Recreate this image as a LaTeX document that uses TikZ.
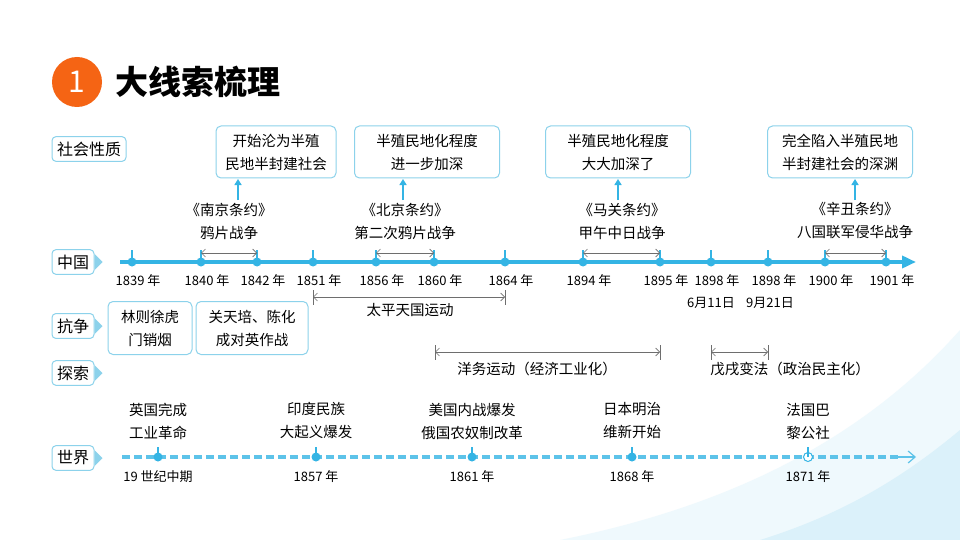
\documentclass[tikz,border=0pt]{standalone}
\usepackage{fontspec}
\newfontfamily\cjk{Noto Sans CJK SC}
\usetikzlibrary{arrows.meta,shapes.symbols}
\definecolor{lineblue}{RGB}{52,180,228}
\definecolor{boxblue}{RGB}{140,210,235}
\definecolor{capgray}{RGB}{110,110,110}
\definecolor{titleorange}{RGB}{245,100,20}
\tikzset{every picture/.style={line width=0.55pt}}
\tikzset{
  sidebox/.style={draw=boxblue,line width=1pt,rounded corners=4pt,fill=white,inner sep=5pt,font=\cjk\fontsize{16}{18}\selectfont},
  notebox/.style={draw=boxblue,line width=1pt,rounded corners=5pt,fill=white,align=center,inner sep=3pt,font=\cjk\fontsize{14.5}{23}\selectfont},
  evt/.style={align=center,font=\cjk\fontsize{14.5}{23}\selectfont},
  yr/.style={font=\cjk\fontsize{13}{15}\selectfont},
  span/.style={capgray,line width=0.6pt,{Straight Barb[length=4pt]}-{Straight Barb[length=4pt]}},
  upar/.style={lineblue,line width=2pt,-{Triangle[length=6pt,width=7pt]}},
}
\begin{document}
\begin{tikzpicture}[x=1pt,y=1pt,yscale=-1]
\useasboundingbox (0,0) rectangle (960,540);
% background
\fill[white] (0,0) rectangle (960,540);
\fill[lineblue!8] (960,330) .. controls (880,420) and (760,500) .. (560,540) -- (960,540) -- cycle;
\fill[lineblue!18] (960,430) .. controls (900,480) and (840,515) .. (760,540) -- (960,540) -- cycle;
% title
\fill[titleorange] (77,82) circle (25);
\node[white,font=\cjk\fontsize{30}{30}\selectfont] (num) at (77,82) {1};
\node[anchor=west,font=\cjk\bfseries\fontsize{33}{33}\selectfont] (title) at (112,82) {大线索梳理};
% side labels
\node[sidebox] (shehui) at (89,149) {社会性质};
\node[sidebox] (zhongguo) at (73,262) {中国};
\node[sidebox] (kangzheng) at (73,326) {抗争};
\node[sidebox] (tansuo) at (73,373) {探索};
\node[sidebox] (shijie) at (73,458) {世界};
\foreach \n in {zhongguo,kangzheng,tansuo,shijie}
  \fill[boxblue] ([yshift=-8]\n.east) -- ++(8,8) -- ++(-8,8) -- cycle;
% china timeline
\coordinate (cstart) at (120,262);
\coordinate (cend) at (916,262);
\draw[lineblue,line width=3.5pt,-{Triangle[length=14pt,width=12pt]}] (cstart) -- (cend);
\foreach \x/\t [count=\i] in {132/1839,201/1840,257/1842,313/1851,376/1856,434/1860,505/1864,583/1894,660/1895,711/1898,768/1898,825/1900,886/1901}{
  \coordinate (c\i) at (\x,262);
  \fill[lineblue] (c\i) circle (4.5);
  \draw[lineblue,line width=1.5pt] (c\i) -- ++(0,-12);
  \node[yr] (cy\i) at (\x+6,281) {\t\ 年};
}
\node[yr] (d10) at (711,303) {6月11日};
\node[yr] (d11) at (770,303) {9月21日};
% wars
\foreach \a/\b in {2/3,5/6,8/9,12/13}
  \draw[span] ([yshift=-9]c\a) -- ([yshift=-9]c\b);
\node[evt] (nanjing) at (229,221) {《南京条约》\\鸦片战争};
\node[evt] (beijing) at (405,221) {《北京条约》\\第二次鸦片战争};
\node[evt] (maguan) at (622,221) {《马关条约》\\甲午中日战争};
\node[evt] (xinchou) at (855,221) {《辛丑条约》\\八国联军侵华战争};
% nature boxes
\node[notebox,minimum width=120,minimum height=52] (n1) at (276,152) {开始沦为半殖\\民地半封建社会};
\node[notebox,minimum width=145,minimum height=52] (n2) at (427,152) {半殖民地化程度\\进一步加深};
\node[notebox,minimum width=145,minimum height=52] (n3) at (618,152) {半殖民地化程度\\大大加深了};
\node[notebox,minimum width=145,minimum height=52] (n4) at (840,152) {完全陷入半殖民地\\半封建社会的深渊};
\draw[upar] (238,200) -- (238,179);
\draw[upar] (403,200) -- (403,179);
\draw[upar] (618,200) -- (618,179);
\draw[upar] (855,200) -- (855,179);
% struggle
\draw[span] (313,297) -- (505,297);
\draw[capgray] (313,290) -- (313,305) (505,290) -- (505,305);
\node[evt] (taiping) at (410,310) {太平天国运动};
\node[notebox,minimum width=84,minimum height=53] (linzexu) at (150,328) {林则徐虎\\门销烟};
\node[notebox,minimum width=112,minimum height=53] (guan) at (252,328) {关天培、陈化\\成对英作战};
% exploration
\draw[span] (435,352) -- (660,352);
\draw[capgray] (435,345) -- (435,360) (660,345) -- (660,360);
\node[evt] (yangwu) at (537,369) {洋务运动（经济工业化）};
\draw[span] (711,352) -- (768,352);
\draw[capgray] (711,345) -- (711,360) (768,345) -- (768,360);
\node[evt] (wuxu) at (790,369) {戊戌变法（政治民主化）};
% world timeline
\coordinate (wstart) at (122,457);
\coordinate (wend) at (916,457);
\draw[lineblue!80,line width=3.5pt,dash pattern=on 8pt off 4pt] (wstart) -- (900,457);
\draw[lineblue!80,line width=1.2pt,-{Straight Barb[length=7pt,width=12pt]}] (895,457) -- (wend);
\foreach \x/\t/\y [count=\i] in {158/{英国完成\\工业革命}/19 世纪中期,316/{印度民族\\大起义爆发}/1857 年,472/{美国内战爆发\\俄国农奴制改革}/1861 年,632/{日本明治\\维新开始}/1868 年}{
  \coordinate (w\i) at (\x,457);
  \fill[lineblue] (w\i) circle (4.5);
  \draw[lineblue,line width=1.5pt] (w\i) -- ++(0,-10);
  \node[evt] (we\i) at (\x,421) {\t};
  \node[yr] (wy\i) at (\x,477) {\y};
}
\coordinate (w5) at (808,457);
\fill[white] (w5) circle (4.5);
\draw[lineblue,line width=1pt] (w5) circle (4.5);
\draw[lineblue,line width=1.5pt] (w5) -- ++(0,-10);
\node[evt] (we5) at (808,421) {法国巴\\黎公社};
\node[yr] (wy5) at (808,477) {1871 年};
\end{tikzpicture}
\end{document}
